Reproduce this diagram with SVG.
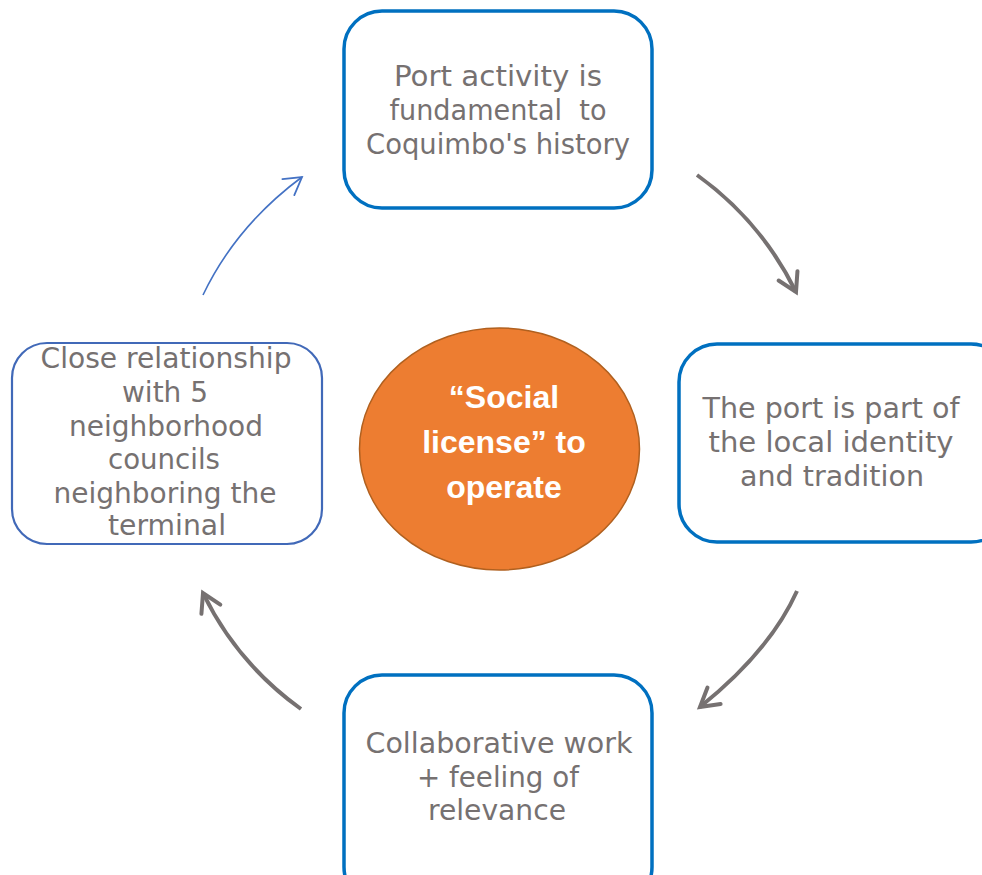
<svg xmlns="http://www.w3.org/2000/svg" width="982" height="875" viewBox="0 0 982 875">
<style>
.box{fill:#ffffff;stroke:#0070C0;stroke-width:3.5}
.boxl{fill:#ffffff;stroke:#4169B8;stroke-width:2.2}
.t{font-family:"DejaVu Sans","Liberation Sans",sans-serif;font-size:28px;fill:#767171;text-anchor:middle}
.c{font-family:"Liberation Sans","Open Sans",sans-serif;font-size:32px;font-weight:bold;fill:#ffffff;text-anchor:middle}
.g{fill:none;stroke:#767171;stroke-width:4}
.b{fill:none;stroke:#4472C4;stroke-width:1.6}
</style>
<defs>
<marker id="ag" markerUnits="userSpaceOnUse" markerWidth="30" markerHeight="30" viewBox="-25 -15 30 30" refX="0" refY="0" orient="auto">
<path d="M-18,-10.5 L0,0 L-18,10.5" fill="none" stroke="#767171" stroke-width="4" stroke-linecap="round" stroke-linejoin="miter"/>
</marker>
<marker id="ab" markerUnits="userSpaceOnUse" markerWidth="30" markerHeight="30" viewBox="-25 -15 30 30" refX="0" refY="0" orient="auto">
<path d="M-17,-10 L0,0 L-17,10" fill="none" stroke="#4472C4" stroke-width="1.8" stroke-linecap="round"/>
</marker>
</defs>
<g id="connectors">
<path class="b" d="M203,295 Q236,226 302,177" marker-end="url(#ab)"/>
<path class="g" d="M697,175 Q761,221 796,292" marker-end="url(#ag)"/>
<path class="g" d="M797,591 Q770,651 700,707" marker-end="url(#ag)"/>
<path class="g" d="M301,709 Q237,663 203,593" marker-end="url(#ag)"/>
</g>
<g id="node-top">
<rect class="box" x="344" y="11" width="308" height="197" rx="38"/>
<text class="t" x="498" y="86" textLength="208" lengthAdjust="spacingAndGlyphs">Port activity is</text>
<text class="t" x="498" y="120" xml:space="preserve" textLength="217" lengthAdjust="spacingAndGlyphs">fundamental  to</text>
<text class="t" x="498" y="154" textLength="264" lengthAdjust="spacingAndGlyphs">Coquimbo's history</text>
</g>
<g id="node-right">
<rect class="box" x="679" y="344" width="330" height="198" rx="38"/>
<text class="t" x="831" y="418" textLength="257" lengthAdjust="spacingAndGlyphs">The port is part of</text>
<text class="t" x="831" y="452" textLength="245" lengthAdjust="spacingAndGlyphs">the local identity</text>
<text class="t" x="832" y="486" textLength="184" lengthAdjust="spacingAndGlyphs">and tradition</text>
</g>
<g id="node-bottom">
<rect class="box" x="344" y="675" width="308" height="230" rx="38"/>
<text class="t" x="499" y="753" textLength="267" lengthAdjust="spacingAndGlyphs">Collaborative work</text>
<text class="t" x="498" y="787" textLength="162" lengthAdjust="spacingAndGlyphs">+ feeling of</text>
<text class="t" x="497" y="820" textLength="138" lengthAdjust="spacingAndGlyphs">relevance</text>
</g>
<g id="node-left">
<rect class="boxl" x="12" y="343" width="310" height="201" rx="35"/>
<text class="t" x="166" y="368" textLength="251" lengthAdjust="spacingAndGlyphs">Close relationship</text>
<text class="t" x="165" y="402" textLength="86" lengthAdjust="spacingAndGlyphs">with 5</text>
<text class="t" x="166" y="436" textLength="194" lengthAdjust="spacingAndGlyphs">neighborhood</text>
<text class="t" x="164" y="469" textLength="112" lengthAdjust="spacingAndGlyphs">councils</text>
<text class="t" x="165" y="503" textLength="223" lengthAdjust="spacingAndGlyphs">neighboring the</text>
<text class="t" x="167" y="535" textLength="118" lengthAdjust="spacingAndGlyphs">terminal</text>
</g>
<g id="node-center">
<ellipse cx="499.5" cy="449" rx="140" ry="121" fill="#ED7D31" stroke="#B0601F" stroke-width="1.5"/>
<text class="c" x="504" y="408">“Social</text>
<text class="c" x="504" y="453">license” to</text>
<text class="c" x="504" y="498">operate</text>
</g>
</svg>
